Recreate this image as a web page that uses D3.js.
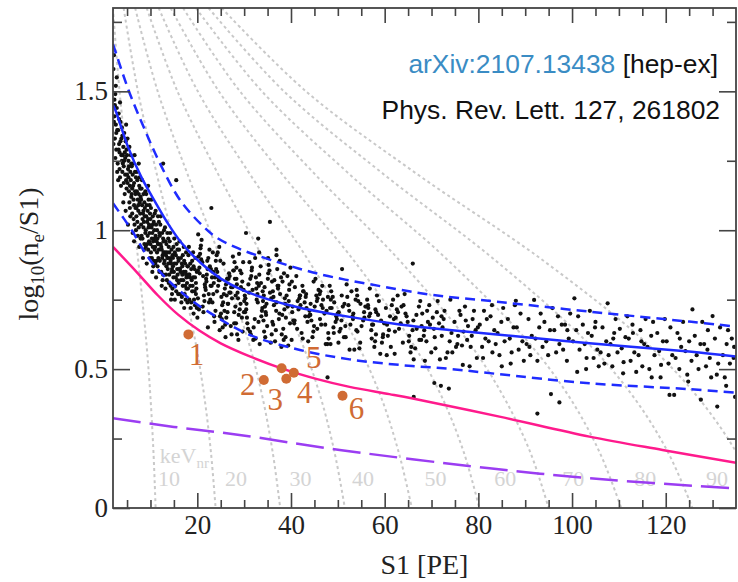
<!DOCTYPE html>
<html lang="en">
<head>
<meta charset="UTF-8">
<title>log10(ne/S1) vs S1</title>
<script src="https://d3js.org/d3.v7.min.js"></script>
<style>
    body { margin: 0; background: #fff; }
    svg text { font-family: "Liberation Serif", "Times New Roman", serif; }
    .note { font-family: "Liberation Sans", Arial, sans-serif; }
</style>
</head>
<body>
<svg id="chart" width="738" height="582"></svg>
<script>
// ---- data ----
const xMajorTicks = [20, 40, 60, 80, 100, 120];
const yMajorTicks = [0, 0.5, 1, 1.5];
const yTickLabels = ["0", "0.5", "1", "1.5"];

// fitted band: [S1, log10(ne/S1)]
const bandMean = [[2,1.45],[2.5,1.433],[5.2,1.30],[8,1.193],[10.9,1.105],[13.7,1.025],[16.6,0.955],[20.8,0.881],[25.1,0.825],[29.3,0.787],[35,0.752],[41.9,0.721],[52.5,0.688],[63.2,0.661],[73.8,0.641],[84.5,0.624],[103.7,0.593],[125,0.563],[135,0.545]];
const bandUpper = [[2,1.67],[5.3,1.505],[8.5,1.373],[11.9,1.245],[16.3,1.109],[21.3,1.013],[24,0.975],[28,0.94],[33,0.908],[45.4,0.845],[59.6,0.797],[70.3,0.767],[83.8,0.743],[103.7,0.707],[125,0.671],[135,0.653]];
const bandLower = [[2,1.097],[6,1.0],[9.6,0.9],[13.7,0.821],[18,0.758],[22.2,0.708],[31.2,0.623],[41.9,0.569],[52.5,0.535],[63.2,0.515],[73.8,0.501],[83.8,0.483],[103.7,0.449],[125,0.428],[135,0.415]];
const limitCurve = [[2,0.94],[7.3,0.845],[11.6,0.765],[15.9,0.696],[20.5,0.638],[25,0.593],[31.2,0.546],[38.3,0.501],[45.4,0.465],[52.5,0.436],[61,0.41],[66,0.394],[84.5,0.329],[103.7,0.257],[119.3,0.209],[135,0.163]];
const purpleCurve = [[2,0.323],[15,0.292],[29,0.263],[50.4,0.209],[82.4,0.143],[103.7,0.107],[135,0.07]];

// keVnr contours: [S1, log10(ne/S1)]
const contourEnergies = [10, 20, 30, 40, 50, 60, 70, 80, 90, 100];
const contourPaths = [
    [[1.98,1.8],[3.40,1.5],[5.29,1.2],[7.33,0.9],[9.10,0.6],[9.99,0.4],[10.64,0.2],[11.1,0]],
    [[4.27,1.8],[7.32,1.5],[11.38,1.2],[15.79,0.9],[19.58,0.6],[21.5,0.4],[22.91,0.2],[23.9,0]],
    [[6.73,1.8],[11.54,1.5],[17.95,1.2],[24.9,0.9],[30.9,0.6],[33.9,0.4],[36.1,0.2],[37.7,0]],
    [[9.19,1.8],[15.76,1.5],[24.5,1.2],[34.0,0.9],[42.2,0.6],[46.3,0.4],[49.3,0.2],[51.5,0]],
    [[11.75,1.8],[20.1,1.5],[31.3,1.2],[43.4,0.9],[53.9,0.6],[59.2,0.4],[63.0,0.2],[65.8,0]],
    [[14.3,1.8],[24.6,1.5],[38.2,1.2],[53.0,0.9],[65.7,0.6],[72.2,0.4],[76.9,0.2],[80.2,0]],
    [[16.96,1.8],[29.1,1.5],[45.2,1.2],[62.7,0.9],[77.8,0.6],[85.4,0.4],[91.1,0.2],[95.0,0]],
    [[19.7,1.8],[33.8,1.5],[52.6,1.2],[73.0,0.9],[90.5,0.6],[99.4,0.4],[105.9,0.2],[110.5,0]],
    [[22.4,1.8],[38.5,1.5],[59.9,1.2],[83.0,0.9],[103.0,0.6],[113.1,0.4],[120.5,0.2],[125.7,0]],
    [[25.2,1.8],[43.2,1.5],[67.1,1.2],[93.1,0.9],[115.5,0.6],[126.8,0.4],[135.1,0.2],[141,0]]
];
const energyLabels = ["10", "20", "30", "40", "50", "60", "70", "80", "90"];
const energyLabelS1 = [11.6, 25.9, 39.7, 53.0, 68.5, 83.4, 97.9, 113.3, 128.6];

// numbered candidate events
const eventIds = ["1", "2", "3", "4", "5", "6"];
const eventS1 = [18.1, 34.2, 39.0, 40.6, 38.0, 51.0];
const eventY = [0.625, 0.461, 0.465, 0.487, 0.503, 0.404];

// calibration events [S1, log10(ne/S1)]
const scatterPoints = [
[2.1,1.58],[2.3,1.47],[2.2,1.39],[2.6,1.52],[2.4,1.33],[2.8,1.44],[2.5,1.26],[2.9,1.36],[2.2,1.63],[2.7,1.29],[2.3,1.41],[2.9,1.21],[2.6,1.38],[2.1,1.31],[2.8,1.55],[2.4,1.45],[2.7,1.35],[2.5,1.49],
[3.1,1.36],[3.4,1.28],[3.2,1.42],[3.8,1.33],[3.5,1.19],[3.3,1.31],[3.9,1.25],[3.6,1.39],[3.0,1.24],[3.7,1.16],[3.5,1.46],[3.2,1.29],[3.9,1.37],[3.4,1.22],[3.8,1.27],[3.1,1.18],[3.6,1.32],[3.3,1.40],
[4.2,1.30],[4.0,1.21],[4.6,1.26],[4.4,1.35],[4.8,1.18],[4.1,1.27],[4.5,1.13],[4.9,1.29],[4.3,1.23],[4.7,1.32],[4.2,1.10],[4.6,1.20],[4.0,1.34],[4.9,1.15],[4.4,1.25],[4.8,1.38],[4.3,1.17],[4.5,1.28],[4.7,1.07],[4.1,1.24],
[5.3,1.25],[5.1,1.17],[5.7,1.21],[5.5,1.30],[5.9,1.12],[5.2,1.22],[5.6,1.08],[5.0,1.27],[5.8,1.18],[5.4,1.14],[5.1,1.33],[5.7,1.05],[5.3,1.19],[5.9,1.24],[5.5,1.10],[5.0,1.20],[5.6,1.16],[5.2,1.02],[5.8,1.27],[5.4,1.23],
[6.2,1.20],[6.0,1.13],[6.5,1.17],[6.8,1.08],[6.3,1.24],[6.7,1.14],[6.1,1.06],[6.9,1.19],[6.4,1.11],[6.6,1.02],[6.0,1.23],[6.5,1.09],[6.9,1.00],[6.3,1.16],[6.7,1.21],[6.2,0.99],[6.8,1.13],[6.4,1.04],[6.6,1.27],[6.1,1.15],[6.5,0.96],
[7.1,1.14],[7.4,1.07],[7.2,1.18],[7.7,1.10],[7.5,1.01],[7.9,1.12],[7.0,1.05],[7.6,1.16],[7.3,0.98],[7.8,1.06],[7.1,1.21],[7.5,1.13],[7.9,0.97],[7.4,1.09],[7.7,1.19],[7.2,1.03],[7.6,0.94],[7.8,1.15],[7.3,1.11],[7.0,1.08],[7.5,1.24],
[8.2,1.09],[8.0,1.02],[8.5,1.13],[8.8,1.05],[8.3,0.97],[8.7,1.10],[8.1,1.15],[8.9,0.99],[8.4,1.06],[8.6,0.93],[8.0,1.11],[8.5,1.01],[8.9,1.14],[8.3,1.04],[8.7,0.95],[8.2,1.18],[8.8,1.08],[8.4,0.90],[8.6,1.03],[8.1,0.98],[8.5,1.07],
[9.1,1.05],[9.4,0.98],[9.2,1.09],[9.7,1.02],[9.5,0.93],[9.9,1.06],[9.0,1.00],[9.6,1.11],[9.3,0.95],[9.8,0.99],[9.1,1.13],[9.5,1.04],[9.9,0.90],[9.4,1.07],[9.7,0.96],[9.2,0.88],[9.6,1.01],[9.8,1.09],[9.3,1.03],[9.0,0.94],[9.5,1.16],
[10.2,1.01],[10.0,0.95],[10.5,1.05],[10.8,0.97],[10.3,0.90],[10.7,1.03],[10.1,1.08],[10.9,0.93],[10.4,0.99],[10.6,0.87],[10.0,1.04],[10.5,0.94],[10.9,1.06],[10.3,0.97],[10.7,0.89],[10.2,1.11],[10.8,1.00],[10.4,0.85],[10.6,0.96],[10.1,0.92],[10.5,1.02],
[11.1,0.98],[11.4,0.92],[11.2,1.02],[11.7,0.95],[11.5,0.87],[11.9,0.99],[11.0,0.94],[11.6,1.05],[11.3,0.89],[11.8,0.93],[11.1,1.07],[11.5,0.97],[11.9,0.85],[11.4,1.00],[11.7,0.90],[11.2,0.83],[11.6,0.95],[11.8,1.03],[11.3,0.96],[11.0,0.88],
[12.2,0.95],[12.0,0.89],[12.5,0.99],[12.8,0.92],[12.3,0.85],[12.7,0.97],[12.1,1.02],[12.9,0.88],[12.4,0.93],[12.6,0.82],[12.0,0.98],[12.5,0.90],[12.9,1.00],[12.3,0.94],[12.7,0.84],[12.2,1.05],[12.8,0.96],[12.4,0.80],[12.6,0.91],[12.7,1.24],
[13.1,0.92],[13.4,0.87],[13.2,0.96],[13.7,0.90],[13.5,0.82],[13.9,0.94],[13.0,0.89],[13.6,0.99],[13.3,0.84],[13.8,0.88],[13.1,1.01],[13.5,0.92],[13.9,0.81],[13.4,0.95],[13.7,0.86],[13.2,0.79],[13.6,0.90],[13.8,0.97],[13.3,0.91],
[14.2,0.90],[14.0,0.84],[14.5,0.93],[14.8,0.87],[14.3,0.80],[14.7,0.91],[14.1,0.96],[14.9,0.83],[14.4,0.88],[14.6,0.77],[14.0,0.92],[14.5,0.85],[14.9,0.94],[14.3,0.89],[14.7,0.79],[14.2,0.99],[14.8,0.90],[14.4,0.75],[14.6,0.86],
[15.1,0.88],[15.4,0.83],[15.2,0.92],[15.7,0.86],[15.5,0.78],[15.9,0.90],[15.0,0.85],[15.6,0.95],[15.3,0.80],[15.8,0.84],[15.1,0.97],[15.5,0.88],[15.9,0.77],[15.4,0.91],[15.7,0.82],[15.2,0.75],[15.5,1.18],[15.8,0.93],
[16.2,0.86],[16.0,0.81],[16.5,0.90],[16.8,0.84],[16.3,0.77],[16.7,0.88],[16.1,0.93],[16.9,0.80],[16.4,0.85],[16.6,0.74],[16.0,0.89],[16.5,0.82],[16.9,0.91],[16.3,0.86],[16.7,0.76],[16.2,0.96],[16.8,0.87],
[17.1,0.85],[17.4,0.80],[17.2,0.89],[17.7,0.83],[17.5,0.75],[17.9,0.87],[17.0,0.82],[17.6,0.92],[17.3,0.77],[17.8,0.81],[17.1,0.94],[17.5,0.85],[17.9,0.74],[17.4,0.88],[17.7,0.79],[17.2,0.72],[17.6,0.84],
[18.2,0.84],[18.0,0.79],[18.5,0.88],[18.8,0.82],[18.3,0.75],[18.7,0.86],[18.1,0.91],[18.9,0.78],[18.4,0.83],[18.6,0.72],[18.0,0.87],[18.5,0.80],[18.9,0.89],[18.3,0.84],[18.7,0.74],[18.2,0.94],
[19.1,0.83],[19.4,0.78],[19.2,0.87],[19.7,0.81],[19.5,0.73],[19.9,0.85],[19.0,0.80],[19.6,0.90],[19.3,0.75],[19.8,0.79],[19.1,0.92],[19.5,0.83],[19.9,0.72],[19.4,0.86],[19.7,0.77],[19.2,0.70],
[20.13,0.855],[21.41,0.765],[20.77,0.945],[21.88,0.825],[20.35,0.715],[21.06,0.885],[20.59,0.915],[21.67,0.795],[20.02,0.685],[21.23,0.835],[20.91,0.965],[21.52,0.745],[20.44,0.865],[21.95,0.815],[20.26,0.905],[21.14,0.725],[20.68,0.935],[21.79,0.785],[20.50,0.845],[21.31,0.705],[20.83,0.895],[21.60,0.805],[20.19,0.985],[20.13,0.755],
[23.41,0.85],[22.77,0.75],[23.88,0.71],[22.35,0.90],[23.06,0.80],[22.59,0.93],[23.67,0.67],[22.02,0.84],[23.23,0.74],[22.91,0.86],[23.52,0.81],[22.44,0.77],[23.95,0.89],[22.26,0.65],[23.14,0.83],[22.68,0.87],[23.79,0.83],[22.50,0.74],[23.31,0.92],[22.83,0.80],[23.60,0.69],[22.19,0.86],[22.13,0.89],[23.41,0.77],[23.0,1.08],
[24.77,0.64],[25.88,0.79],[24.35,0.92],[25.06,0.70],[24.59,0.82],[25.67,0.77],[24.02,0.86],[25.23,0.68],[24.91,0.89],[25.52,0.74],[24.44,0.80],[25.95,0.66],[24.26,0.85],[25.14,0.76],[24.68,0.94],[25.79,0.71],[24.50,0.83],[25.31,0.73],[24.83,0.69],[25.60,0.88],[24.19,0.78],[24.13,0.91],[25.41,0.65],[24.77,0.82],
[27.88,0.705],[26.35,0.825],[27.06,0.775],[26.59,0.735],[27.67,0.855],[26.02,0.615],[27.23,0.795],[26.91,0.835],[27.52,0.795],[26.44,0.705],[27.95,0.885],[26.26,0.765],[27.14,0.655],[26.68,0.825],[27.79,0.855],[26.50,0.735],[27.31,0.625],[26.83,0.775],[27.60,0.905],[26.19,0.685],[26.13,0.805],[27.41,0.755],[26.77,0.845],[27.88,0.665],
[28.35,0.865],[29.06,0.715],[28.59,0.775],[29.67,0.635],[28.02,0.825],[29.23,0.735],[28.91,0.915],[29.52,0.685],[28.44,0.805],[29.95,0.705],[28.26,0.665],[29.14,0.855],[28.68,0.755],[29.79,0.885],[28.50,0.625],[29.31,0.795],[28.83,0.695],[29.60,0.815],[28.19,0.765],[28.13,0.725],[29.41,0.845],[28.77,0.605],[29.88,0.785],[28.35,0.825],
[31.06,0.775],[30.59,0.685],[31.67,0.865],[30.02,0.745],[31.23,0.635],[30.91,0.805],[31.52,0.835],[30.44,0.715],[31.95,0.605],[30.26,0.755],[31.14,0.885],[30.68,0.665],[31.79,0.785],[30.50,0.735],[31.31,0.825],[30.83,0.645],[31.60,0.855],[30.19,0.705],[30.13,0.765],[31.41,0.625],[30.4,0.99],
[32.77,0.81],[33.88,0.72],[32.35,0.90],[33.06,0.67],[32.59,0.79],[33.67,0.69],[32.02,0.65],[33.23,0.84],[32.91,0.74],[33.52,0.87],[32.44,0.61],[33.95,0.78],[32.26,0.68],[33.14,0.80],[32.68,0.75],[33.79,0.71],[32.50,0.83],[33.31,0.59],[32.83,0.77],[33.60,0.81],[33.0,0.97],[33.2,0.92],
[34.19,0.765],[34.13,0.675],[35.41,0.855],[34.77,0.735],[35.88,0.625],[34.35,0.795],[35.06,0.825],[34.59,0.705],[35.67,0.595],[34.02,0.745],[35.23,0.875],[34.91,0.655],[35.52,0.775],[34.44,0.725],[35.95,0.815],[34.26,0.635],[35.14,0.845],[34.68,0.695],[35.79,0.755],[34.50,0.615],[35.1,0.90],[35.5,1.03],
[37.31,0.80],[36.83,0.71],[37.60,0.89],[36.19,0.66],[36.13,0.78],[37.41,0.68],[36.77,0.64],[37.88,0.83],[36.35,0.73],[37.06,0.86],[36.59,0.60],[37.67,0.77],[36.02,0.67],[37.23,0.79],[36.91,0.74],[37.52,0.70],[36.44,0.82],[37.95,0.58],[36.26,0.76],[37.14,0.80],[36.9,0.93],[36.9,0.91],
[38.68,0.755],[39.79,0.665],[38.50,0.845],[39.31,0.725],[38.83,0.615],[39.60,0.785],[38.19,0.815],[38.13,0.695],[39.41,0.585],[38.77,0.735],[39.88,0.865],[38.35,0.645],[39.06,0.765],[38.59,0.715],[39.67,0.805],[38.02,0.625],[39.23,0.835],[38.91,0.685],[39.52,0.745],[38.44,0.605],
[41.95,0.765],[40.26,0.705],[41.14,0.835],[40.68,0.665],[41.79,0.755],[40.50,0.675],[41.31,0.645],[40.83,0.795],[41.60,0.715],[40.19,0.815],[40.13,0.605],[41.41,0.745],[40.77,0.675],[41.88,0.765],[40.35,0.725],
[43.06,0.69],[42.59,0.78],[43.67,0.60],[42.02,0.73],[43.23,0.77],[42.91,0.74],[43.52,0.67],[42.44,0.80],[43.95,0.71],[42.26,0.63],[43.14,0.76],[42.68,0.78],[43.79,0.69],[42.50,0.61],[43.31,0.72],
[44.83,0.815],[45.60,0.645],[44.19,0.735],[44.13,0.695],[45.41,0.765],[44.77,0.635],[45.88,0.785],[44.35,0.675],[45.06,0.725],[44.59,0.615],[45.67,0.755],[44.02,0.695],[45.23,0.825],[44.91,0.655],[45.52,0.745],
[46.44,0.66],[47.95,0.63],[46.26,0.78],[47.14,0.70],[46.68,0.80],[47.79,0.59],[46.50,0.73],[47.31,0.66],[46.83,0.75],[47.60,0.71],[46.19,0.68],[46.13,0.77],[47.41,0.59],[46.77,0.72],[47.88,0.76],[47.8,0.47],
[48.35,0.72],[49.06,0.65],[48.59,0.78],[49.67,0.69],[48.02,0.61],[49.23,0.74],[48.91,0.76],[49.52,0.67],[48.44,0.59],[49.95,0.70],[48.26,0.80],[49.14,0.63],[48.68,0.72],[49.79,0.68],[48.50,0.75],
[51.31,0.615],[50.83,0.765],[51.60,0.655],[50.19,0.705],[50.13,0.595],[51.41,0.735],[50.77,0.675],[51.88,0.805],[50.35,0.635],[51.06,0.725],[50.59,0.645],[51.67,0.615],[50.9,0.86],
[52.02,0.76],[53.23,0.68],[52.91,0.78],[53.52,0.57],[52.44,0.71],[53.95,0.64],[52.26,0.73],[53.14,0.69],[52.68,0.66],[53.79,0.75],[52.50,0.57],[53.31,0.70],
[54.83,0.735],[55.60,0.705],[54.19,0.635],[54.13,0.765],[55.41,0.675],[54.77,0.595],[55.88,0.725],[54.35,0.745],[55.06,0.655],[54.59,0.575],[55.67,0.685],[54.02,0.785],
[57.23,0.61],[56.91,0.70],[57.52,0.66],[56.44,0.73],[57.95,0.60],[56.26,0.75],[57.14,0.64],[56.68,0.69],[57.79,0.58],[56.50,0.72],[57.31,0.66],[56.83,0.79],
[59.60,0.615],[58.19,0.705],[58.13,0.625],[59.41,0.595],[58.77,0.745],[59.88,0.665],[58.35,0.765],[59.06,0.555],[58.59,0.695],[59.67,0.625],[58.02,0.715],[59.23,0.675],
[60.91,0.64],[61.52,0.73],[60.44,0.55],[61.95,0.68],[60.26,0.72],[61.14,0.69],[60.68,0.62],[61.79,0.75],[60.50,0.66],[61.31,0.58],
[62.83,0.705],[63.60,0.725],[62.19,0.635],[62.13,0.555],[63.41,0.665],[62.77,0.765],[63.88,0.595],[62.35,0.685],[63.06,0.645],[62.59,0.715],
[65.67,0.58],[64.02,0.73],[65.23,0.62],[64.91,0.67],[65.52,0.56],[64.44,0.70],[65.95,0.64],[64.26,0.77],[65.14,0.60],[64.68,0.69],
[67.79,0.605],[66.50,0.575],[67.31,0.725],[66.83,0.645],[67.60,0.745],[66.19,0.535],[66.13,0.675],[67.41,0.605],[66.77,0.695],[67.88,0.655],[66.0,0.88],[66.2,0.40],
[68.35,0.62],[69.06,0.71],[68.59,0.53],[69.67,0.66],[68.02,0.70],[69.23,0.67],[68.91,0.60],[69.52,0.73],[68.44,0.64],[69.95,0.56],
[70.26,0.685],[71.14,0.705],[70.68,0.615],[71.79,0.535],[70.50,0.645],[71.31,0.745],[70.83,0.575],[71.60,0.665],[70.6,0.45],[72.0,0.44],
[72.19,0.62],[72.13,0.69],[73.41,0.56],[72.77,0.71],[73.88,0.60],[72.35,0.65],[73.06,0.54],[72.59,0.68],[73.7,0.43],
[75.67,0.62],[74.02,0.75],[75.23,0.58],[74.91,0.67],[75.52,0.59],[74.44,0.56],[75.95,0.71],[74.26,0.63],
[77.14,0.725],[76.68,0.515],[77.79,0.655],[76.50,0.585],[77.31,0.675],[76.83,0.635],[77.60,0.605],[76.19,0.695],
[78.13,0.51],[79.41,0.64],[78.77,0.68],[79.88,0.65],[78.35,0.58],[79.06,0.71],[78.59,0.62],[79.67,0.54],
[80.3,0.66],[80.8,0.58],[81.2,0.71],[81.5,0.61],[81.0,0.54],[81.8,0.68],
[82.2,0.60],[82.6,0.69],[83.0,0.56],[83.4,0.64],[82.9,0.73],[83.7,0.59],
[84.1,0.63],[84.5,0.55],[84.9,0.67],[85.3,0.72],[85.6,0.60],[85.0,0.51],
[86.3,0.68],[86.7,0.61],[87.1,0.56],[87.5,0.65],[86.9,0.52],[87.8,0.73],
[88.2,0.65],[88.6,0.57],[89.0,0.70],[89.4,0.60],[89.7,0.53],[88.0,0.746],
[90.3,0.59],[90.7,0.68],[91.1,0.55],[91.4,0.62],[91.9,0.749],[90.9,0.58],
[92.2,0.61],[92.6,0.53],[93.0,0.65],[93.3,0.70],[93.7,0.58],[92.6,0.34],
[94.1,0.67],[94.5,0.60],[94.9,0.55],[95.3,0.64],[95.5,0.41],[95.8,0.72],
[96.2,0.64],[96.6,0.56],[97.0,0.69],[97.3,0.59],[97.3,0.38],[97.8,0.66],
[98.1,0.57],[98.5,0.66],[98.9,0.53],[99.3,0.61],[99.6,0.70],[99.0,0.64],
[100.2,0.60],[100.5,0.755],[100.9,0.64],[101.3,0.69],[101.6,0.57],[101.1,0.49],
[102.3,0.66],[102.7,0.59],[103.1,0.54],[103.4,0.63],[103.0,0.50],[103.8,0.71],
[104.2,0.62],[104.6,0.54],[105.0,0.67],[105.4,0.57],[105.7,0.51],[104.9,0.65],
[106.1,0.56],[106.5,0.65],[106.9,0.52],[107.3,0.60],[107.6,0.737],[107.8,0.55],
[108.2,0.59],[108.6,0.51],[109.0,0.63],[109.3,0.68],[109.7,0.56],[108.8,0.61],
[110.2,0.645],[110.6,0.575],[111.0,0.525],[111.4,0.615],[110.9,0.485],[111.8,0.69],
[112.1,0.61],[112.5,0.53],[112.9,0.66],[113.3,0.56],[113.7,0.49],[113.0,0.63],
[114.2,0.55],[114.6,0.64],[115.0,0.51],[115.4,0.59],[115.7,0.68],[114.8,0.60],
[116.1,0.58],[116.5,0.50],[116.9,0.62],[117.3,0.67],[117.6,0.55],[117.0,0.47],
[118.2,0.63],[118.6,0.565],[119.0,0.515],[119.4,0.60],[118.9,0.47],[119.8,0.68],
[120.2,0.60],[120.6,0.52],[121.0,0.65],[120.8,0.407],[121.8,0.407],[121.4,0.55],
[122.1,0.54],[122.5,0.63],[122.9,0.50],[123.3,0.58],[123.7,0.67],[123.0,0.61],
[124.2,0.565],[124.6,0.48],[125.0,0.60],[125.7,0.715],[125.5,0.53],[124.8,0.455],
[126.2,0.62],[126.6,0.55],[127.0,0.50],[127.5,0.39],[127.4,0.59],[127.8,0.67],
[128.2,0.59],[128.6,0.51],[129.0,0.64],[129.4,0.54],[129.7,0.47],[128.9,0.57],
[130.0,0.691],[130.5,0.61],[130.9,0.48],[131.0,0.365],[131.6,0.65],[131.2,0.52],
[132.2,0.55],[132.6,0.47],[133.0,0.59],[133.3,0.64],[133.7,0.52],[132.9,0.44],
[134.1,0.61],[134.5,0.54],[134.8,0.40],[134.6,0.58]
];

// ---- layout ----
const svg = d3.select("#chart");
const x = d3.scaleLinear().domain([2, 135]).range([113, 736]);
const y = d3.scaleLinear().domain([0, 1.8]).range([508, 8]);
const axisColor = "#444";

svg.append("defs").append("clipPath").attr("id", "plotArea")
    .append("rect")
    .attr("x", x.range()[0]).attr("y", y.range()[1])
    .attr("width", x.range()[1] - x.range()[0])
    .attr("height", y.range()[0] - y.range()[1]);

const plot = svg.append("g").attr("clip-path", "url(#plotArea)");

// energy contours
const contourLine = d3.line()
    .x(d => x(d[0])).y(d => y(d[1]))
    .curve(d3.curveCatmullRom);

plot.selectAll(".contour")
    .data(contourPaths)
    .enter().append("path")
    .attr("class", "contour")
    .attr("d", contourLine)
    .attr("fill", "none")
    .attr("stroke", "#c9c9c9")
    .attr("stroke-width", 2)
    .attr("stroke-dasharray", "3,3");

// energy labels
plot.selectAll(".elabel")
    .data(energyLabels)
    .enter().append("text")
    .attr("class", "elabel")
    .attr("x", (d, i) => x(energyLabelS1[i]))
    .attr("y", y(0.079))
    .attr("font-size", 22)
    .attr("fill", "#d4d4d4")
    .text(d => d);

const kev = plot.append("text")
    .attr("x", x(12)).attr("y", y(0.162))
    .attr("font-size", 22).attr("fill", "#d4d4d4");
kev.append("tspan").text("keV");
kev.append("tspan").attr("font-size", 15).attr("dy", 5).text("nr");

// calibration scatter
plot.selectAll(".pt")
    .data(scatterPoints)
    .enter().append("circle")
    .attr("class", "pt")
    .attr("cx", d => x(d[0]))
    .attr("cy", d => y(d[1]))
    .attr("r", 2.1)
    .attr("fill", "#111");

// curves
const curve = d3.line()
    .x(d => x(d[0])).y(d => y(d[1]))
    .curve(d3.curveCatmullRom.alpha(0.5));

function drawCurve(data, color, width, dash) {
    plot.append("path")
        .datum(data)
        .attr("d", curve)
        .attr("fill", "none")
        .attr("stroke", color)
        .attr("stroke-width", width)
        .attr("stroke-dasharray", dash);
}

drawCurve(purpleCurve, "#9b3df2", 2.5, "28,9");
drawCurve(limitCurve, "#ff1a8c", 2.5, null);
drawCurve(bandUpper, "#1f2cff", 2.5, "10,6");
drawCurve(bandLower, "#1f2cff", 2.5, "10,6");
drawCurve(bandMean, "#1f2cff", 2.5, null);

// candidate events
const evColor = "#d06b34";
const labelOffset = { "1": [8, 31], "2": [-16, 15], "3": [-11, 31], "4": [11, 30], "5": [32, 0], "6": [14, 23] };

plot.selectAll(".ev")
    .data(eventIds)
    .enter().append("circle")
    .attr("class", "ev")
    .attr("cx", (d, i) => x(eventS1[i]))
    .attr("cy", (d, i) => y(eventY[i]))
    .attr("r", 5)
    .attr("fill", evColor);

plot.selectAll(".evlabel")
    .data(eventIds)
    .enter().append("text")
    .attr("class", "evlabel")
    .attr("x", (d, i) => x(eventS1[i]) + labelOffset[d][0])
    .attr("y", (d, i) => y(eventY[i]) + labelOffset[d][1])
    .attr("text-anchor", "middle")
    .attr("font-size", 31)
    .attr("fill", evColor)
    .text(d => d);

// ---- axes ----
const xMinor = d3.range(5, 135, 5).filter(v => v % 20 !== 0);
const yMinor = [0.25, 0.75, 1.25, 1.75];

function styleAxis(g) {
    g.select(".domain").remove();
    g.selectAll(".tick line").attr("stroke", axisColor).attr("stroke-width", 1.6);
    g.selectAll(".tick text").attr("fill", "#222").attr("font-size", 27)
        .attr("font-family", "Liberation Serif, serif");
}

svg.append("g").attr("transform", "translate(0,508)")
    .call(d3.axisBottom(x).tickValues(xMajorTicks).tickSize(-15).tickPadding(7).tickFormat(d3.format("d")))
    .call(styleAxis);
svg.append("g").attr("transform", "translate(0,508)")
    .call(d3.axisBottom(x).tickValues(xMinor).tickSize(-8).tickFormat(""))
    .call(styleAxis);
svg.append("g").attr("transform", "translate(0,8)")
    .call(d3.axisTop(x).tickValues(xMajorTicks).tickSize(-15).tickFormat(""))
    .call(styleAxis);
svg.append("g").attr("transform", "translate(0,8)")
    .call(d3.axisTop(x).tickValues(xMinor).tickSize(-8).tickFormat(""))
    .call(styleAxis);

svg.append("g").attr("transform", "translate(113,0)")
    .call(d3.axisLeft(y).tickValues(yMajorTicks).tickSize(-17).tickPadding(5).tickFormat((d, i) => yTickLabels[i]))
    .call(styleAxis);
svg.append("g").attr("transform", "translate(113,0)")
    .call(d3.axisLeft(y).tickValues(yMinor).tickSize(-9).tickFormat(""))
    .call(styleAxis);
svg.append("g").attr("transform", "translate(736,0)")
    .call(d3.axisRight(y).tickValues(yMajorTicks).tickSize(-17).tickFormat(""))
    .call(styleAxis);
svg.append("g").attr("transform", "translate(736,0)")
    .call(d3.axisRight(y).tickValues(yMinor).tickSize(-9).tickFormat(""))
    .call(styleAxis);

// frame
svg.append("rect")
    .attr("x", 113).attr("y", 8)
    .attr("width", 623).attr("height", 500)
    .attr("fill", "none")
    .attr("stroke", axisColor)
    .attr("stroke-width", 1.8);

// axis titles
svg.append("text")
    .attr("x", (x.range()[0] + x.range()[1]) / 2)
    .attr("y", 574)
    .attr("text-anchor", "middle")
    .attr("font-size", 28)
    .attr("fill", "#222")
    .text("S1 [PE]");

const yt = svg.append("text")
    .attr("transform", "translate(38,254) rotate(-90)")
    .attr("text-anchor", "middle")
    .attr("font-size", 28)
    .attr("fill", "#222");
yt.append("tspan").text("log");
yt.append("tspan").attr("font-size", 19).attr("dy", 6).text("10");
yt.append("tspan").attr("dy", -6).text("(n");
yt.append("tspan").attr("font-size", 19).attr("dy", 6).text("e");
yt.append("tspan").attr("dy", -6).text("/S1)");

// references
const ref = svg.append("text")
    .attr("class", "note")
    .attr("x", 718).attr("y", 73)
    .attr("text-anchor", "end")
    .attr("font-size", 26.4);
ref.append("tspan").attr("fill", "#3a8cc4").text("arXiv:2107.13438");
ref.append("tspan").attr("fill", "#111").text(" [hep-ex]");

svg.append("text")
    .attr("class", "note")
    .attr("x", 720).attr("y", 119)
    .attr("text-anchor", "end")
    .attr("font-size", 26.4)
    .attr("fill", "#111")
    .text("Phys. Rev. Lett. 127, 261802");
</script>
</body>
</html>
